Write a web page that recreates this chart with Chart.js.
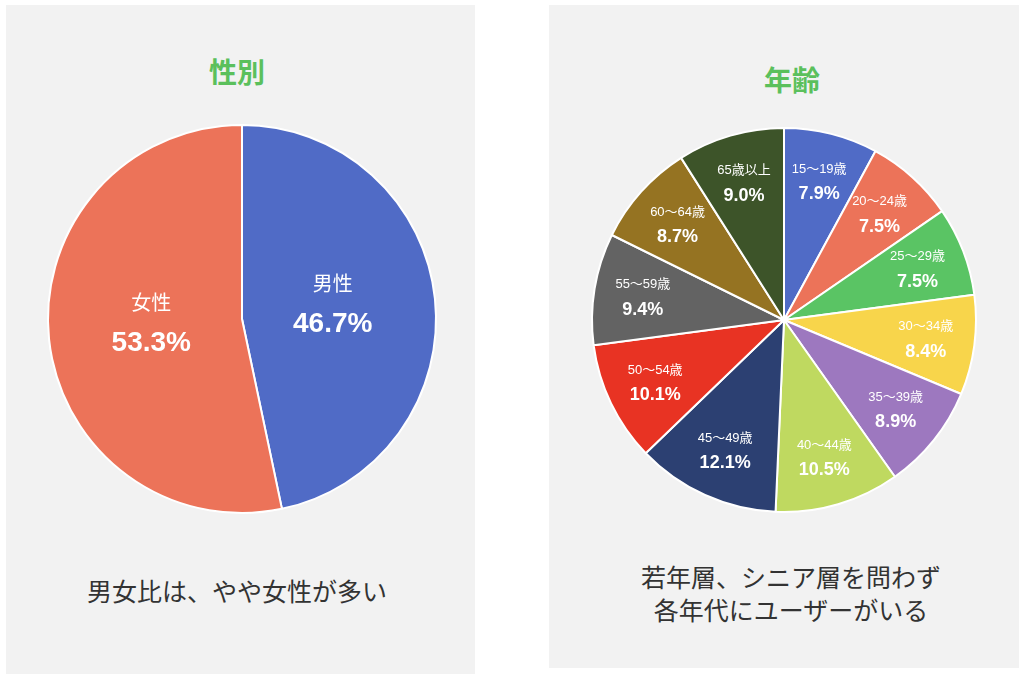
<!DOCTYPE html>
<html lang="ja">
<head>
<meta charset="utf-8">
<title>性別・年齢</title>
<script src="https://cdn.jsdelivr.net/npm/chart.js@4.4.1/dist/chart.umd.min.js"></script>
<style>
  html, body { margin: 0; padding: 0; background: #fff; }
  body { width: 1024px; height: 674px; position: relative; overflow: hidden;
         font-family: "Noto Sans CJK JP", "Noto Sans", sans-serif; }
  .panel { position: absolute; background: #f2f2f2; }
  .title { position: absolute; width: 300px; margin-left: -150px; text-align: center;
           color: #5bc05c; font-weight: 700; font-size: 28px; line-height: 34px; }
  .note { position: absolute; width: 420px; margin-left: -210px; text-align: center;
          color: #333; font-size: 25px; line-height: 33px; }
  canvas { position: absolute; }
</style>
</head>
<body>
<div class="panel" style="left:6px; top:5px; width:469px; height:669px;"></div>
<div class="panel" style="left:549px; top:5px; width:470px; height:663px;"></div>

<div class="title" style="left:237px; top:54px;">性別</div>
<div class="title" style="left:792px; top:62px;">年齢</div>

<canvas id="genderChart" width="400" height="400" style="left:42px; top:119px;"></canvas>
<canvas id="ageChart" width="400" height="400" style="left:584px; top:120px;"></canvas>

<div class="note" style="left:237px; top:574px;">男女比は、やや女性が多い</div>
<div class="note" style="left:791px; top:560px;">若年層、シニア層を問わず<br>各年代にユーザーがいる</div>

<script>
// --- data ---
var genderLabels = ["男性", "女性"];
var genderValues = [46.7, 53.3];
var genderColors = ["#506bc6", "#ec7359"];

var ageLabels = ["15〜19歳", "20〜24歳", "25〜29歳", "30〜34歳", "35〜39歳", "40〜44歳",
                 "45〜49歳", "50〜54歳", "55〜59歳", "60〜64歳", "65歳以上"];
var ageValues = [7.9, 7.5, 7.5, 8.4, 8.9, 10.5, 12.1, 10.1, 9.4, 8.7, 9.0];
var ageColors = ["#506bc6", "#ec7359", "#5ac464", "#f8d54b", "#9d78bf", "#bfd960",
                 "#2c4072", "#e83323", "#636363", "#957322", "#3d5429"];

// draws the category name + percent inside each slice
var sliceLabels = {
  id: "sliceLabels",
  afterDatasetsDraw: function (chart, args, opts) {
    var ctx = chart.ctx;
    var meta = chart.getDatasetMeta(0);
    var values = chart.data.datasets[0].data;
    ctx.save();
    ctx.fillStyle = "#ffffff";
    ctx.textAlign = "center";
    ctx.textBaseline = "middle";
    meta.data.forEach(function (arc, i) {
      var p = arc.getProps(["x", "y", "startAngle", "endAngle", "outerRadius"], true);
      var mid = (p.startAngle + p.endAngle) / 2;
      var r = p.outerRadius * opts.dist;
      var x = p.x + Math.cos(mid) * r;
      var y = p.y + Math.sin(mid) * r;
      ctx.font = opts.nameFont;
      ctx.fillText(chart.data.labels[i], x, y + opts.nameDy);
      ctx.font = opts.valueFont;
      ctx.fillText(values[i].toFixed(1) + "%", x, y + opts.valueDy);
    });
    ctx.restore();
  },
};

function makePie(id, labels, values, colors, pad, labelOpts) {
  return new Chart(document.getElementById(id), {
    type: "pie",
    data: {
      labels: labels,
      datasets: [{
        data: values,
        backgroundColor: colors,
        borderColor: "#ffffff",
        borderWidth: 2,
      }],
    },
    options: {
      responsive: false,
      animation: false,
      devicePixelRatio: 1,
      layout: { padding: pad },
      plugins: {
        legend: { display: false },
        tooltip: { enabled: false },
        sliceLabels: labelOpts,
      },
    },
    plugins: [sliceLabels],
  });
}

makePie("genderChart", genderLabels, genderValues, genderColors, 5, {
  dist: 0.47,
  nameFont: '20px "Noto Sans CJK JP", sans-serif',
  valueFont: 'bold 28px "Liberation Sans", Arial, sans-serif',
  nameDy: -26,
  valueDy: 15,
});

makePie("ageChart", ageLabels, ageValues, ageColors, 7, {
  dist: 0.745,
  nameFont: '13px "Liberation Sans", "Noto Sans CJK JP", sans-serif',
  valueFont: 'bold 18px "Liberation Sans", Arial, sans-serif',
  nameDy: -12,
  valueDy: 13,
});
</script>
</body>
</html>
